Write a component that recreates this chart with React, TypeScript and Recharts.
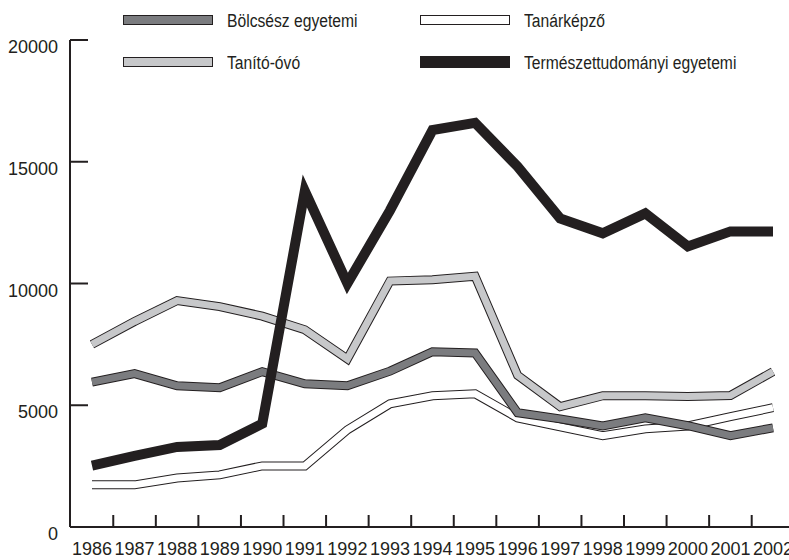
import { LineChart, Line, XAxis, YAxis } from "recharts";

const INK = "#231f20";
const DARK_GRAY = "#7b7c7f";
const LIGHT_GRAY = "#c7c8ca";
const NUM_FONT = "'Liberation Sans', Arial, sans-serif";

const years = [
  "1986", "1987", "1988", "1989", "1990", "1991", "1992", "1993", "1994",
  "1995", "1996", "1997", "1998", "1999", "2000", "2001", "2002",
];
const bolcsesz = [5950, 6300, 5800, 5720, 6380, 5880, 5800, 6400, 7200, 7150, 4690, 4440, 4150, 4480, 4160, 3750, 4070];
const tanarkepzo = [1730, 1730, 2010, 2140, 2510, 2510, 3990, 5060, 5390, 5470, 4480, 4110, 3750, 4030, 4150, 4530, 4900];
const tanitoOvo = [7500, 8440, 9300, 9050, 8660, 8100, 6900, 10100, 10150, 10300, 6230, 4940, 5390, 5390, 5360, 5400, 6380];
const termeszettud = [2520, 2920, 3290, 3370, 4240, 13800, 10000, 13000, 16300, 16600, 14800, 12670, 12060, 12880, 11520, 12140, 12140];
const yTicks = [0, 5000, 10000, 15000, 20000];

const data = years.map((year, i) => ({
  year,
  bolcsesz: bolcsesz[i],
  tanarkepzo: tanarkepzo[i],
  tanitoOvo: tanitoOvo[i],
  termeszettud: termeszettud[i],
}));

const STEP = 42.6;

const XTick = (props: any) => {
  const { x, y, payload, index } = props;
  return (
    <g>
      {index > 0 && (
        <line x1={x - STEP / 2} x2={x - STEP / 2} y1={y} y2={y - 12} stroke={INK} strokeWidth={2} />
      )}
      <text x={x} y={y + 28} textAnchor="middle" fill={INK} fontSize={18} fontFamily={NUM_FONT}>
        {payload.value}
      </text>
    </g>
  );
};

const YTick = (props: any) => {
  const { x, y, payload } = props;
  return (
    <g>
      <line x1={x} x2={x + 18} y1={y} y2={y} stroke={INK} strokeWidth={2} />
      <text x={x - 12} y={y + 13} textAnchor="end" fill={INK} fontSize={18} fontFamily={NUM_FONT}>
        {payload.value}
      </text>
    </g>
  );
};

const legendItems = [
  { label: "Bölcsész egyetemi", color: DARK_GRAY, left: 123, top: 15, h: 8 },
  { label: "Tanárképző", color: "#ffffff", left: 420, top: 15, h: 8 },
  { label: "Tanító-óvó", color: LIGHT_GRAY, left: 123, top: 57, h: 8 },
  { label: "Természettudományi egyetemi", color: INK, left: 420, top: 56, h: 10 },
];

function outlined(key: string, fill: string) {
  return [
    <Line
      key={key + "-outline"}
      dataKey={key}
      stroke={INK}
      strokeWidth={9}
      strokeLinejoin="miter"
      strokeLinecap="butt"
      dot={false}
      activeDot={false}
      isAnimationActive={false}
    />,
    <Line
      key={key + "-fill"}
      dataKey={key}
      stroke={fill}
      strokeWidth={7}
      strokeLinejoin="miter"
      strokeLinecap="butt"
      dot={false}
      activeDot={false}
      isAnimationActive={false}
    />,
  ];
}

export default function App() {
  return (
    <div style={{ position: "absolute", left: 0, top: 0, width: 789, height: 560, background: "#fff" }}>
      <LineChart width={789} height={560} data={data} margin={{ top: 40, right: 0, bottom: 0, left: 0 }}>
        <XAxis
          dataKey="year"
          height={33}
          padding={{ left: 22, right: 16 }}
          axisLine={{ stroke: INK, strokeWidth: 2 }}
          tickLine={false}
          tickSize={0}
          tickMargin={0}
          interval={0}
          tick={<XTick />}
        />
        <YAxis
          width={70}
          domain={[0, 20000]}
          ticks={yTicks}
          axisLine={{ stroke: INK, strokeWidth: 2 }}
          tickLine={false}
          tickSize={0}
          tickMargin={0}
          interval={0}
          tick={<YTick />}
        />
        {outlined("tanarkepzo", "#ffffff")}
        {outlined("bolcsesz", DARK_GRAY)}
        {outlined("tanitoOvo", LIGHT_GRAY)}
        <Line
          dataKey="termeszettud"
          stroke={INK}
          strokeWidth={10}
          strokeLinejoin="miter"
          strokeLinecap="butt"
          dot={false}
          activeDot={false}
          isAnimationActive={false}
        />
      </LineChart>
      {legendItems.map((item) => (
        <div key={item.label}>
          <div
            style={{
              position: "absolute",
              left: item.left,
              top: item.top,
              width: 88,
              height: item.h,
              background: item.color,
              border: `1px solid ${INK}`,
            }}
          />
          <div
            style={{
              position: "absolute",
              left: item.left + 104,
              top: item.top + item.h / 2 - 10,
              fontFamily: NUM_FONT,
              fontSize: 18,
              lineHeight: "24px",
              color: INK,
              whiteSpace: "nowrap",
              transform: "scaleX(0.87)",
              transformOrigin: "left center",
            }}
          >
            {item.label}
          </div>
        </div>
      ))}
    </div>
  );
}
